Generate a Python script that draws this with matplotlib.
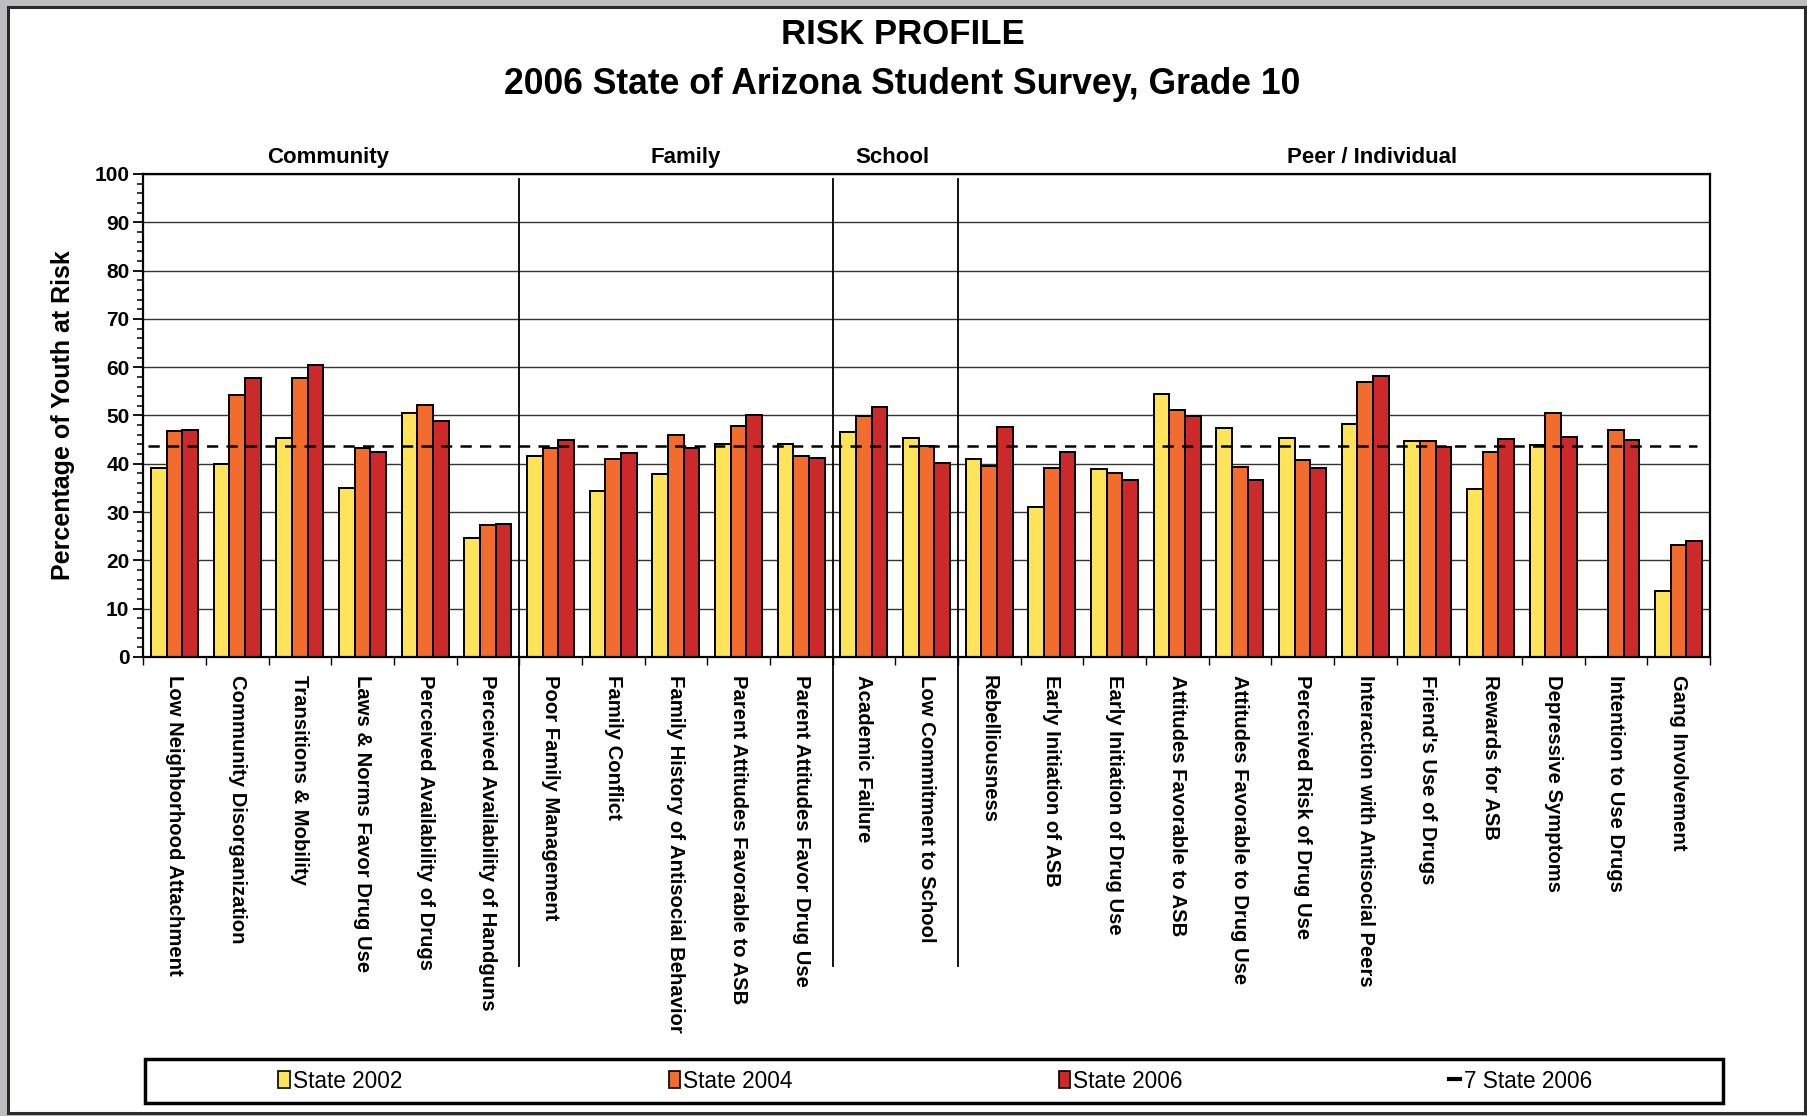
import numpy as np
import matplotlib
matplotlib.use("Agg")
import matplotlib.pyplot as plt
import matplotlib.transforms as mtransforms
from matplotlib.patches import Patch, Rectangle
from matplotlib.lines import Line2D

plt.rcParams['font.family'] = ['Liberation Sans', 'DejaVu Sans']

# risk factor scales, left to right
categories = [
    "Low Neighborhood Attachment", "Community Disorganization", "Transitions & Mobility",
    "Laws & Norms Favor Drug Use", "Perceived Availability of Drugs",
    "Perceived Availability of Handguns",
    "Poor Family Management", "Family Conflict", "Family History of Antisocial Behavior",
    "Parent Attitudes Favorable to ASB", "Parent Attitudes Favor Drug Use",
    "Academic Failure", "Low Commitment to School",
    "Rebelliousness", "Early Initiation of ASB", "Early Initiation of Drug Use",
    "Attitudes Favorable to ASB", "Attitudes Favorable to Drug Use",
    "Perceived Risk of Drug Use", "Interaction with Antisocial Peers",
    "Friend's Use of Drugs", "Rewards for ASB", "Depressive Symptoms",
    "Intention to Use Drugs", "Gang Involvement",
]

domains = ["Community", "Family", "School", "Peer / Individual"]
domain_sizes = [6, 5, 2, 12]

state_2002 = [39.2, 39.9, 45.3, 35.0, 50.6, 24.7,
              41.6, 34.4, 37.8, 44.2, 44.1,
              46.5, 45.4,
              40.9, 31.1, 39.0, 54.5, 47.4, 45.4, 48.2, 44.8, 34.7, 43.9, np.nan, 13.7]
state_2004 = [46.8, 54.2, 57.7, 43.2, 52.1, 27.3,
              43.3, 40.9, 45.9, 47.8, 41.7,
              49.9, 43.7,
              39.5, 39.1, 38.1, 51.1, 39.3, 40.7, 57.0, 44.8, 42.5, 50.5, 47.0, 23.1]
state_2006 = [47.0, 57.7, 60.4, 42.5, 48.8, 27.6,
              45.0, 42.3, 43.3, 50.1, 41.2,
              51.7, 40.2,
              47.6, 42.4, 36.7, 49.8, 36.6, 39.2, 58.1, 43.4, 45.1, 45.6, 44.9, 24.0]
state_avg_2006 = 43.6

series_labels = ["State 2002", "State 2004", "State 2006"]
avg_label = "7 State 2006"

colors = ["#FFE45A", "#F26D2D", "#CC2A2A"]

fig = plt.figure(figsize=(18.07, 11.16), dpi=100)
fig.patch.set_facecolor("#bdbdc0")
fig.add_artist(Rectangle((8 / 1807, 3 / 1116), 1797 / 1807, 1106 / 1116,
                         transform=fig.transFigure, facecolor="white",
                         edgecolor="#2a2a2a", lw=2.2, zorder=-1))

ax = fig.add_axes([0.0793, 0.4113, 0.8670, 0.4328])

x = np.arange(len(categories)) + 0.5
w = 0.25
for k, vals in enumerate([state_2002, state_2004, state_2006]):
    ax.bar(x + (k - 1) * w, vals, width=w, color=colors[k], edgecolor="black",
           linewidth=1.4, zorder=3)

ax.hlines(state_avg_2006, 0.08, 24.8, colors="black", lw=1.8,
          linestyles=(0, (4.5, 3.3)), zorder=4)

ax.set_xlim(0, len(categories))
ax.set_ylim(0, 100)

# y axis
ax.set_yticks(np.arange(0, 101, 10))
ax.set_yticks(np.arange(0, 101, 2), minor=True)
ax.tick_params(axis="y", which="major", direction="out", length=7, width=1.3,
               labelsize=15, pad=3)
ax.tick_params(axis="y", which="minor", direction="out", length=4, width=1.1)
for lab in ax.get_yticklabels():
    lab.set_fontweight("bold")
ax.grid(axis="y", which="major", color="#333333", lw=1.0, zorder=0)

# x axis: ticks at boundaries, labels at centres
ax.set_xticks(np.arange(0, len(categories) + 1))
ax.set_xticklabels([])
ax.set_xticks(x, minor=True)
ax.set_xticklabels(categories, minor=True, rotation=-90, fontsize=14.6,
                   fontweight="bold", va="top", ha="center")
ax.tick_params(axis="x", which="major", direction="out", length=6, width=1.0)
ax.tick_params(axis="x", which="minor", length=0, pad=13)

for sp in ax.spines.values():
    sp.set_linewidth(1.6)
    sp.set_zorder(5)

ax.set_ylabel("Percentage of Youth at Risk", fontsize=18, fontweight="bold",
              labelpad=14)

# domain separators and headers
trans = mtransforms.blended_transform_factory(ax.transData, ax.transAxes)
bounds = np.cumsum(domain_sizes)
for b in bounds[:-1]:
    ax.plot([b, b], [0.99, -0.64], color="black", lw=1.3, transform=trans,
            clip_on=False, zorder=5)
header_x = [2.95, 8.65, 11.95, 19.6]
for name, hx in zip(domains, header_x):
    ax.text(hx, 1.035, name, transform=trans, ha="center", va="center",
            fontsize=16, fontweight="bold")

fig.text(0.4995, 1 - 35 / 1116, "RISK PROFILE", ha="center", va="center",
         fontsize=25, fontweight="bold")
fig.text(0.4995, 1 - 84 / 1116, "2006 State of Arizona Student Survey, Grade 10",
         ha="center", va="center", fontsize=25.6, fontweight="bold")

# legend
fig.add_artist(Rectangle((145 / 1807, 13 / 1116), 1578 / 1807, 44 / 1116,
                         transform=fig.transFigure, facecolor="none",
                         edgecolor="black", lw=2.5))
handles = [Patch(facecolor=c, edgecolor="black", lw=1.2) for c in colors]
handles.append(Line2D([0], [0], color="black", lw=3))
fig.legend(handles, series_labels + [avg_label], ncol=4, loc="center",
           bbox_to_anchor=(0.5175, 35 / 1116), frameon=False, fontsize=16.3,
           handlelength=0.5, handleheight=0.75, handletextpad=0.15,
           columnspacing=11.75)

fig.savefig("out.png", dpi=100, facecolor=fig.get_facecolor())
